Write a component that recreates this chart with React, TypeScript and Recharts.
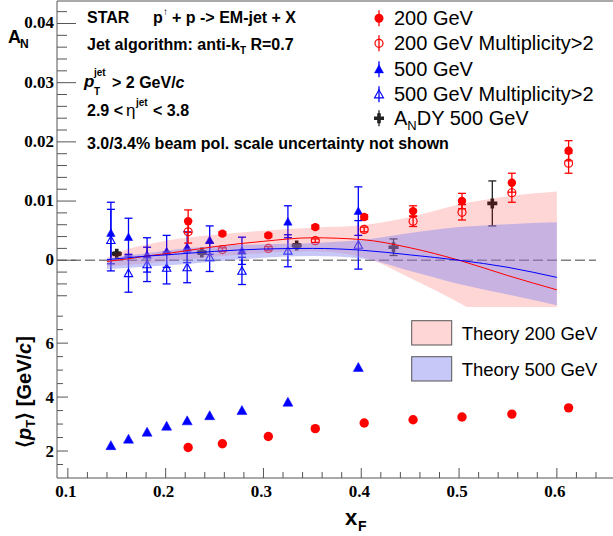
import React from 'react';
import { ComposedChart, Scatter, Area, Line, XAxis, YAxis, ErrorBar, ReferenceLine } from 'recharts';

const axisColor = '#555';
const sans = '"Liberation Sans", Arial, Helvetica, sans-serif';
const serif = '"Liberation Serif", "Times New Roman", serif';

// 500 GeV bins
const xF500 = [0.144, 0.162, 0.181, 0.201, 0.222, 0.245, 0.278, 0.325, 0.397];
const an500 = [0.0046, 0.0039, 0.0009, 0.0015, 0.0022, 0.0034, 0.0016, 0.0065, 0.0083];
const an500Mult = [0.0034, -0.0022, -0.0007, -0.0013, -0.0012, 0.0005, -0.0018, 0.0016, 0.0026];
const err500 = [0.0052, 0.0032, 0.0029, 0.0027, 0.0026, 0.0024, 0.0023, 0.0027, 0.0041];
const pt500 = [2.2, 2.44, 2.7, 2.92, 3.12, 3.31, 3.5, 3.81, 5.1];

// 200 GeV bins
const xF200 = [0.223, 0.258, 0.305, 0.353, 0.403, 0.453, 0.503, 0.554, 0.612];
const an200 = [0.0066, 0.0045, 0.0042, 0.0056, 0.0073, 0.0083, 0.01, 0.0131, 0.0185];
const an200Mult = [0.0048, 0.0018, 0.002, 0.0033, 0.0052, 0.0066, 0.0081, 0.0114, 0.0164];
const err200 = [0.0019, 0.0003, 0.0003, 0.0003, 0.0004, 0.0009, 0.0013, 0.0016, 0.0017];
const pt200 = [2.13, 2.27, 2.54, 2.83, 3.04, 3.16, 3.26, 3.37, 3.6];

// AnDY 500 GeV
const xFAndy = [0.15, 0.237, 0.334, 0.433, 0.534];
const anAndy = [0.0011, 0.0013, 0.0025, 0.0022, 0.0096];
const errAndy = [0.0003, 0.0003, 0.0003, 0.0014, 0.0038];

// theory bands
const thX = [0.14, 0.16, 0.18, 0.2, 0.25, 0.3, 0.35, 0.4, 0.45, 0.5, 0.55, 0.6];
const th200Mid = [-0.0002, 0.0002, 0.0007, 0.0011, 0.0023, 0.0032, 0.0038, 0.0035, 0.0021, 0.0, -0.0026, -0.005];
const th200Lo = [-0.001, -0.0008, -0.0005, -0.0002, 0.0006, 0.0012, 0.0015, 0.0006, -0.003, -0.0072, -0.012, -0.017];
const th200Hi = [0.0004, 0.0018, 0.0026, 0.0033, 0.0043, 0.005, 0.0055, 0.0059, 0.0073, 0.0094, 0.0108, 0.0116];
const th500Mid = [0.0001, 0.0004, 0.0007, 0.0009, 0.0015, 0.0019, 0.002, 0.0017, 0.0009, 0.0, -0.0012, -0.0029];
const th500Lo = [-0.0015, -0.0013, -0.0011, -0.0009, -0.0002, 0.0004, 0.0007, 0.0003, -0.0018, -0.004, -0.0058, -0.0076];
const th500Hi = [0.0003, 0.0008, 0.0012, 0.0016, 0.0024, 0.0027, 0.0029, 0.0034, 0.0046, 0.0056, 0.0061, 0.0064];

// axes
const xTicks = [0.1, 0.12, 0.14, 0.16, 0.18, 0.2, 0.22, 0.24, 0.26, 0.28, 0.3, 0.32, 0.34, 0.36, 0.38, 0.4,
  0.42, 0.44, 0.46, 0.48, 0.5, 0.52, 0.54, 0.56, 0.58, 0.6, 0.62, 0.64];
const anTicks = [-0.006, -0.004, -0.002, 0, 0.002, 0.004, 0.006, 0.008, 0.01, 0.012, 0.014, 0.016, 0.018, 0.02,
  0.022, 0.024, 0.026, 0.028, 0.03, 0.032, 0.034, 0.036, 0.038, 0.04, 0.042];
const ptTicks = [1.5, 2, 2.5, 3, 3.5, 4, 4.5, 5, 5.5, 6, 6.5, 7];

const s500 = xF500.map((x, i) => ({ x, y: an500[i], err: err500[i] }));
const s500m = xF500.map((x, i) => ({ x, y: an500Mult[i], err: err500[i] }));
const s200 = xF200.map((x, i) => ({ x, y: an200[i], err: err200[i] }));
const s200m = xF200.map((x, i) => ({ x, y: an200Mult[i], err: err200[i] }));
const sAndy = xFAndy.map((x, i) => ({ x, y: anAndy[i], err: errAndy[i] }));
const band200 = thX.map((x, i) => ({ x, range: [th200Lo[i], th200Hi[i]], mid: th200Mid[i] }));
const band500 = thX.map((x, i) => ({ x, range: [th500Lo[i], th500Hi[i]], mid: th500Mid[i] }));
const p500 = xF500.map((x, i) => ({ x, y: pt500[i] }));
const p200 = xF200.map((x, i) => ({ x, y: pt200[i] }));

const RED = '#ff0000';
const BLUE = '#0000ff';
const BAND500 = '#8787f0';

const isMult = (v: number, step: number) => Math.abs(v / step - Math.round(v / step)) < 1e-6;

const FullCircle = ({ cx = 0, cy = 0, r = 4.2 }: any) => <circle cx={cx} cy={cy} r={r} fill={RED} />;
const OpenCircle = ({ cx = 0, cy = 0, r = 4 }: any) => (
  <circle cx={cx} cy={cy} r={r} fill="none" stroke={RED} strokeWidth={1.2} />
);
const Tri = ({ cx = 0, cy = 0, s = 4.2, open = false }: any) => (
  <polygon
    points={`${cx},${cy - s} ${cx - s},${cy + s * 0.8} ${cx + s},${cy + s * 0.8}`}
    fill={open ? 'none' : BLUE}
    stroke={BLUE}
    strokeWidth={open ? 1.1 : 0.5}
  />
);
const Cross = ({ cx = 0, cy = 0 }: any) => (
  <path
    d={`M${cx - 1.8},${cy - 5}h3.6v3.2h3.2v3.6h-3.2v3.2h-3.6v-3.2h-3.2v-3.6h3.2z`}
    fill="#222"
  />
);

function xTick(labels: boolean, major: number, minor: number) {
  return (p: any) => {
    const v = p.payload.value;
    const big = isMult(v, 0.1);
    return (
      <g>
        <line x1={p.x} x2={p.x} y1={p.y} y2={p.y - (big ? major : minor)} stroke={axisColor} />
        {labels && big && (
          <text x={p.x - 2} y={p.y + 19} textAnchor="middle" fontFamily={serif} fontWeight="bold" fontSize={17} fill="#000">
            {v.toFixed(1)}
          </text>
        )}
      </g>
    );
  };
}

const anTick = (p: any) => {
  const v = p.payload.value;
  const big = isMult(v, 0.01);
  return (
    <g>
      <line x1={p.x} x2={p.x + (big ? 19 : 10)} y1={p.y} y2={p.y} stroke={axisColor} />
      {big && v >= 0 && (
        <text x={p.x - 3} y={p.y + 5} textAnchor="end" fontFamily={serif} fontWeight="bold" fontSize={17} fill="#000">
          {v === 0 ? '0' : Math.abs(v).toFixed(2)}
        </text>
      )}
    </g>
  );
};

const ptTick = (p: any) => {
  const v = p.payload.value;
  const big = isMult(v, 2);
  return (
    <g>
      <line x1={p.x} x2={p.x + (big ? 11 : 6)} y1={p.y} y2={p.y} stroke={axisColor} />
      {big && (
        <text x={p.x - 3} y={p.y + 5.5} textAnchor="end" fontFamily={serif} fontWeight="bold" fontSize={17} fill="#000">
          {v}
        </text>
      )}
    </g>
  );
};

function LegendRow({ y, marker, children }: any) {
  return (
    <g>
      <line x1={379} x2={379} y1={y - 8} y2={y + 8} stroke={marker === 'cross' ? '#222' : marker.includes('c') ? RED : BLUE} strokeWidth={1.3} />
      {marker === 'fc' && <FullCircle cx={379} cy={y} r={4.5} />}
      {marker === 'oc' && <OpenCircle cx={379} cy={y} r={4} />}
      {marker === 'ft' && <Tri cx={379} cy={y} s={4.5} />}
      {marker === 'ot' && <Tri cx={379} cy={y} s={4.5} open />}
      {marker === 'cross' && <Cross cx={379} cy={y} />}
      <text x={394} y={y + 7} fontFamily={sans} fontSize={20} fill="#000">{children}</text>
    </g>
  );
}

export default function App() {
  return (
    <div style={{ position: 'absolute', left: 0, top: 0, width: 613, height: 536, background: '#fff' }}>
      <div style={{ position: 'absolute', left: 0, top: 0 }}>
        <ComposedChart width={613} height={308} margin={{ top: 1, right: 0, bottom: 1, left: 0 }}>
          <XAxis
            type="number"
            dataKey="x"
            domain={[0.0889, 0.6574]}
            ticks={xTicks}
            interval={0}
            allowDataOverflow
            height={0}
            tickSize={0}
            tickMargin={0}
            tickLine={false}
            axisLine={{ stroke: axisColor }}
            tick={xTick(false, 10, 5)}
          />
          <YAxis
            type="number"
            domain={[-0.0079, 0.0438]}
            ticks={anTicks}
            interval={0}
            allowDataOverflow
            width={57}
            tickSize={0}
            tickMargin={0}
            tickLine={false}
            axisLine={{ stroke: axisColor }}
            tick={anTick}
          />
          <ReferenceLine y={0.0438} stroke={axisColor} />
          <ReferenceLine
            segment={[{ x: 0.0889, y: 0 }, { x: 0.64, y: 0 }]}
            stroke="#808080"
            strokeWidth={1.5}
            strokeDasharray="10 4"
          />
          <Scatter data={sAndy} dataKey="y" shape={(p: any) => <Cross cx={p.cx} cy={p.cy} />} isAnimationActive={false}>
            <ErrorBar dataKey="err" direction="y" width={4} stroke="#222" strokeWidth={1.3} />
          </Scatter>
          <Scatter data={s500m} dataKey="y" shape={(p: any) => <Tri cx={p.cx} cy={p.cy} open />} isAnimationActive={false}>
            <ErrorBar dataKey="err" direction="y" width={4} stroke={BLUE} strokeWidth={1.3} />
          </Scatter>
          <Scatter data={s500} dataKey="y" shape={(p: any) => <Tri cx={p.cx} cy={p.cy} />} isAnimationActive={false}>
            <ErrorBar dataKey="err" direction="y" width={4} stroke={BLUE} strokeWidth={1.3} />
          </Scatter>
          <Scatter data={s200m} dataKey="y" shape={(p: any) => <OpenCircle cx={p.cx} cy={p.cy} />} isAnimationActive={false}>
            <ErrorBar dataKey="err" direction="y" width={4} stroke={RED} strokeWidth={1.3} />
          </Scatter>
          <Scatter data={s200} dataKey="y" shape={(p: any) => <FullCircle cx={p.cx} cy={p.cy} />} isAnimationActive={false}>
            <ErrorBar dataKey="err" direction="y" width={4} stroke={RED} strokeWidth={1.3} />
          </Scatter>
          <Area data={band200} dataKey="range" type="monotone" fill={RED} fillOpacity={0.16} stroke="none" isAnimationActive={false} zIndex={700} />
          <Area data={band500} dataKey="range" type="monotone" fill={BAND500} fillOpacity={0.46} stroke="none" isAnimationActive={false} zIndex={710} />
          <Line data={band200} dataKey="mid" type="monotone" stroke={RED} strokeWidth={1} dot={false} isAnimationActive={false} zIndex={720} />
          <Line data={band500} dataKey="mid" type="monotone" stroke={BLUE} strokeWidth={1} dot={false} isAnimationActive={false} zIndex={730} />
        </ComposedChart>
      </div>
      <div style={{ position: 'absolute', left: 0, top: 307 }}>
        <ComposedChart width={613} height={229} margin={{ top: 0, right: 0, bottom: 0, left: 0 }}>
          <XAxis
            type="number"
            dataKey="x"
            domain={[0.0889, 0.6574]}
            ticks={xTicks}
            interval={0}
            allowDataOverflow
            height={58}
            tickSize={0}
            tickMargin={0}
            tickLine={false}
            axisLine={{ stroke: axisColor }}
            tick={xTick(true, 10, 6)}
          />
          <YAxis
            type="number"
            domain={[1, 7.34]}
            ticks={ptTicks}
            interval={0}
            allowDataOverflow
            width={57}
            tickSize={0}
            tickMargin={0}
            tickLine={false}
            axisLine={{ stroke: axisColor }}
            tick={ptTick}
          />
          <Scatter data={p500} dataKey="y" shape={(p: any) => <Tri cx={p.cx} cy={p.cy} s={5} />} isAnimationActive={false} />
          <Scatter data={p200} dataKey="y" shape={(p: any) => <FullCircle cx={p.cx} cy={p.cy} r={4.7} />} isAnimationActive={false} />
        </ComposedChart>
      </div>
      <svg width={613} height={536} style={{ position: 'absolute', left: 0, top: 0, pointerEvents: 'none' }}>
        <g fontFamily={sans} fontWeight="bold" fontSize={16} fill="#000">
          <text x={87} y={22.7}>STAR</text>
          <text x={153} y={22.7}>p</text>
          <text x={163} y={15} fontSize={10}>↑</text>
          <text x={172} y={22.7}>+ p -&gt; EM-jet + X</text>
          <text x={87} y={50}>
            Jet algorithm: anti-k<tspan fontSize={10} dy={4}>T</tspan>
            <tspan dy={-4}> R=0.7</tspan>
          </text>
          <text x={84} y={87} fontStyle="italic" fontSize={17}>p</text>
          <text x={94} y={76} fontSize={10}>jet</text>
          <text x={94} y={95} fontSize={10}>T</text>
          <text x={112} y={88.3}>
            &gt; 2 GeV/<tspan fontStyle="italic">c</tspan>
          </text>
          <text x={87} y={116}>2.9 &lt; </text>
          <text x={126} y={116} fontWeight="normal" fontSize={17}>η</text>
          <text x={136} y={106} fontSize={10}>jet</text>
          <text x={153} y={116}>&lt; 3.8</text>
          <text x={87} y={149.3}>3.0/3.4% beam pol. scale uncertainty not shown</text>
        </g>
        <LegendRow y={18.3} marker="fc">200 GeV</LegendRow>
        <LegendRow y={43.3} marker="oc">200 GeV Multiplicity&gt;2</LegendRow>
        <LegendRow y={69.3} marker="ft">500 GeV</LegendRow>
        <LegendRow y={94.3} marker="ot">500 GeV Multiplicity&gt;2</LegendRow>
        <LegendRow y={118.3} marker="cross">
          A<tspan fontSize={13} dy={5}>N</tspan>
          <tspan dy={-5}>DY 500 GeV</tspan>
        </LegendRow>
        <rect x={411.7} y={320.7} width={40} height={24.3} fill={RED} fillOpacity={0.16} stroke={axisColor} />
        <rect x={411.7} y={356.7} width={40} height={24.3} fill={BAND500} fillOpacity={0.46} stroke={axisColor} />
        <text x={461.7} y={340} fontFamily={sans} fontSize={18.5} fill="#000">Theory 200 GeV</text>
        <text x={461.7} y={375.7} fontFamily={sans} fontSize={18.5} fill="#000">Theory 500 GeV</text>
        <g fontFamily={sans} fontWeight="bold" fill="#000">
          <text x={8} y={43} fontSize={18}>A</text>
          <text x={20} y={48} fontSize={12}>N</text>
          <text x={345} y={525} fontSize={22}>x</text>
          <text x={358} y={531} fontSize={14}>F</text>
          <text transform="translate(31, 392) rotate(-90)" textAnchor="middle" fontSize={20}>
            ⟨<tspan fontStyle="italic">p</tspan>
            <tspan fontSize={13} dy={4}>T</tspan>
            <tspan dy={-4}>⟩ [GeV/</tspan>
            <tspan fontStyle="italic">c</tspan>]
          </text>
        </g>
      </svg>
    </div>
  );
}
